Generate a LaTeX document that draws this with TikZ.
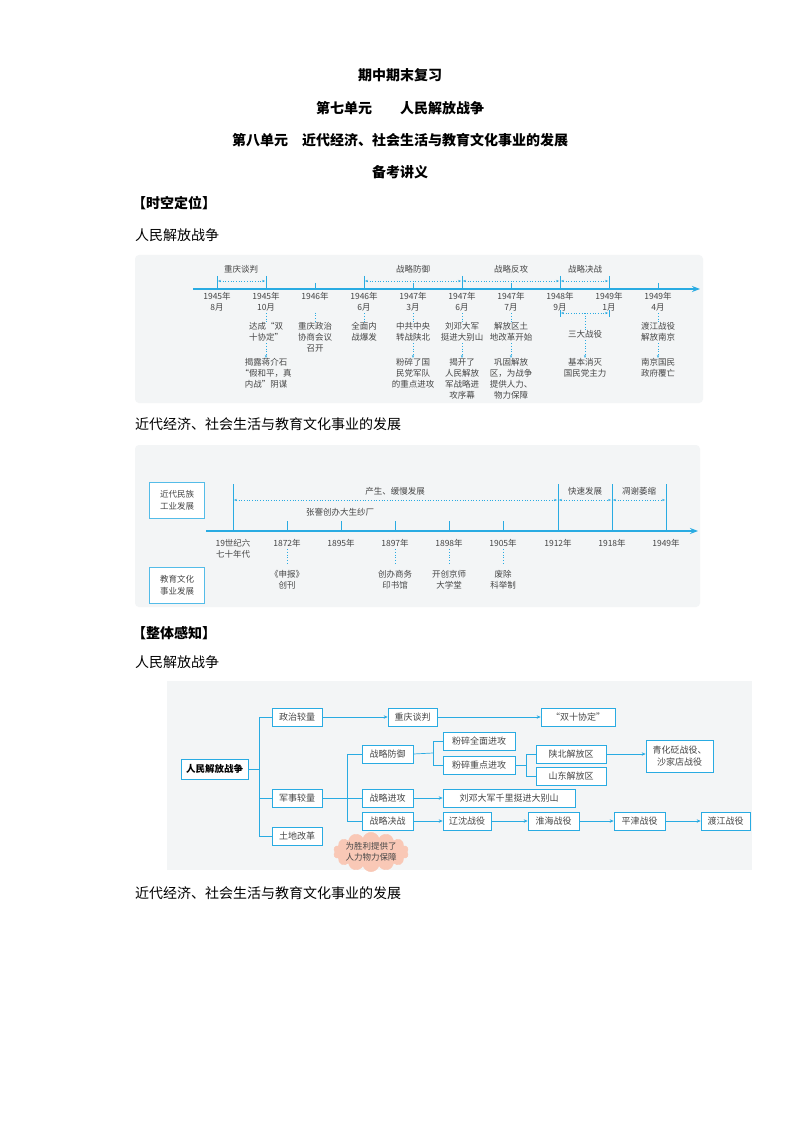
\documentclass[tikz,border=0pt]{standalone}
\usepackage{fontspec}
\setmainfont{Noto Sans CJK SC}
\usetikzlibrary{positioning,arrows.meta,shapes.symbols}
\definecolor{lineblue}{RGB}{41,171,226}
\definecolor{panel}{RGB}{243,245,246}
\definecolor{txtgray}{RGB}{70,70,70}
\definecolor{cloudpink}{RGB}{249,200,182}
\tikzset{
  lbl/.style={font=\fontsize{8.5}{11}\selectfont, text=txtgray, align=center, inner sep=0pt},
  ticklin/.style={draw=lineblue, line width=0.6pt},
  dotlink/.style={draw=lineblue, dotted, line width=0.7pt},
  axisline/.style={draw=lineblue, line width=1.4pt, -{Stealth[length=8pt,width=6pt]}},
  box/.style={draw=lineblue, fill=white, line width=0.7pt, minimum height=18pt, inner sep=2pt,
    font=\fontsize{9}{12}\selectfont, text=txtgray, align=center},
  link/.style={draw=lineblue, line width=0.7pt},
  arr/.style={link, -{Stealth[length=4pt,width=3.5pt]}},
  head/.style={font=\fontsize{14}{16}\selectfont\bfseries, inner sep=0pt},
  body/.style={font=\fontsize{14}{16}\selectfont, anchor=west, inner sep=0pt}
}
\begin{document}
\begin{tikzpicture}[x=1pt,y=-1pt]
\useasboundingbox (0,0) rectangle (800,1131);
\fill[white] (0,0) rectangle (800,1131);

% Headings
\node[head] (title1) at (400,75) {期中期末复习};
\node[head] (title2) at (400,108) {第七单元\quad\quad 人民解放战争};
\node[head] (title3) at (400,140) {第八单元\quad 近代经济、社会生活与教育文化事业的发展};
\node[head] (title4) at (400,172) {备考讲义};
\node[head, anchor=west] (sec1) at (132,203) {【时空定位】};
\node[body] (sub1) at (135,235) {人民解放战争};

% Timeline 1
\fill[panel, rounded corners=4pt] (135,255) rectangle (703,403);
\coordinate (ax1s) at (193,289);
\coordinate (ax1e) at (700,289);
\draw[axisline] (ax1s) -- (ax1e);
\foreach \i/\x/\y/\m in {1/217/1945/8,2/266/1945/10,3/315/1946/,4/364/1946/6,5/413/1947/3,
  6/462/1947/6,7/511/1947/7,8/560/1948/9,9/609/1949/1,10/658/1949/4}{
  \draw[ticklin] (\x,283) -- (\x,289);
  \node[lbl, anchor=north] (y\i) at (\x,292) {\y 年\\\ifx\m\empty\else\m 月\fi};
}
\foreach \x in {217,266,364,462,560,609}
  \draw[ticklin] (\x,276) -- (\x,289);
% spans
\draw[dotlink, {Stealth[length=3pt]}-{Stealth[length=3pt]}] (218,281) -- (265,281);
\draw[dotlink, {Stealth[length=3pt]}-{Stealth[length=3pt]}] (365,281) -- (461,281);
\draw[dotlink, {Stealth[length=3pt]}-{Stealth[length=3pt]}] (463,281) -- (559,281);
\draw[dotlink, {Stealth[length=3pt]}-{Stealth[length=3pt]}] (561,281) -- (608,281);
\node[lbl] (s1) at (241,269) {重庆谈判};
\node[lbl] (s2) at (413,269) {战略防御};
\node[lbl] (s3) at (511,269) {战略反攻};
\node[lbl] (s4) at (585,269) {战略决战};
% events
\node[lbl, anchor=north] (a2) at (266,322) {达成“双\\十协定”};
\node[lbl, anchor=north] (b2) at (266,358) {揭露蒋介石\\“假和平，真\\内战”阴谋};
\node[lbl, anchor=north] (a3) at (315,322) {重庆政治\\协商会议\\召开};
\node[lbl, anchor=north] (a4) at (364,322) {全面内\\战爆发};
\node[lbl, anchor=north] (a5) at (413,322) {中共中央\\转战陕北};
\node[lbl, anchor=north] (b5) at (413,358) {粉碎了国\\民党军队\\的重点进攻};
\node[lbl, anchor=north] (a6) at (462,322) {刘邓大军\\挺进大别山};
\node[lbl, anchor=north] (b6) at (462,358) {揭开了\\人民解放\\军战略进\\攻序幕};
\node[lbl, anchor=north] (a7) at (511,322) {解放区土\\地改革开始};
\node[lbl, anchor=north] (b7) at (511,358) {巩固解放\\区，为战争\\提供人力、\\物力保障};
\node[lbl] (a8) at (585,334) {三大战役};
\node[lbl, anchor=north] (b8) at (585,358) {基本消灭\\国民党主力};
\node[lbl, anchor=north] (a10) at (658,322) {渡江战役\\解放南京};
\node[lbl, anchor=north] (b10) at (658,358) {南京国民\\政府覆亡};
\foreach \i in {2,3,4,5,6,7,10}
  \draw[dotlink] (y\i.south) ++(0,2) -- (a\i.north);
\foreach \i in {2,5,6,7,8,10}
  \draw[dotlink, -{Stealth[length=3pt]}] (a\i.south) ++(0,2) -- (b\i.north);
\draw[ticklin] (560,310) -- (560,317);
\draw[ticklin] (609,310) -- (609,317);
\draw[dotlink, {Stealth[length=3pt]}-{Stealth[length=3pt]}] (561,313) -- (608,313);
\draw[dotlink] (585,313) -- (a8.north);

% Timeline 2
\node[body] (sub2) at (135,424) {近代经济、社会生活与教育文化事业的发展};
\fill[panel, rounded corners=4pt] (135,445) rectangle (700,607);
\node[box, draw=lineblue!80, minimum width=55pt, minimum height=36pt, font=\fontsize{8.5}{12}\selectfont] (ind) at (177,500) {近代民族\\工业发展};
\node[box, draw=lineblue!80, minimum width=55pt, minimum height=36pt, font=\fontsize{8.5}{12}\selectfont] (edu) at (177,585) {教育文化\\事业发展};
\draw[axisline] (206,531) -- (698,531);
\foreach \x in {233,558,612,666}
  \draw[ticklin] (\x,484) -- (\x,531);
\foreach \x in {287,341,395,449,503}
  \draw[ticklin] (\x,521) -- (\x,531);
\foreach \i/\x/\t in {1/233/19世纪六\\七十年代,2/287/1872年,3/341/1895年,4/395/1897年,
  5/449/1898年,6/503/1905年,7/558/1912年,8/612/1918年,9/666/1949年}
  \node[lbl, anchor=north] (z\i) at (\x,539) {\t};
\draw[dotlink, {Stealth[length=3pt]}-{Stealth[length=3pt]}] (234,500) -- (557,500);
\draw[dotlink, {Stealth[length=3pt]}-{Stealth[length=3pt]}] (559,500) -- (611,500);
\draw[dotlink, {Stealth[length=3pt]}-{Stealth[length=3pt]}] (613,500) -- (665,500);
\node[lbl] (p1) at (395,491) {产生、缓慢发展};
\node[lbl] (p2) at (585,491) {快速发展};
\node[lbl] (p3) at (639,491) {凋谢萎缩};
\node[lbl] (zj) at (340,512) {张謇创办大生纱厂};
\node[lbl, anchor=north] (e2) at (287,570) {《申报》\\创刊};
\node[lbl, anchor=north] (e4) at (395,570) {创办商务\\印书馆};
\node[lbl, anchor=north] (e5) at (449,570) {开创京师\\大学堂};
\node[lbl, anchor=north] (e6) at (503,570) {废除\\科举制};
\foreach \i in {2,4,5,6}
  \draw[dotlink] (z\i.south) ++(0,2) -- ++(0,14);

% Tree
\node[head, anchor=west] (sec2) at (132,633) {【整体感知】};
\node[body] (sub3) at (135,662) {人民解放战争};
\fill[panel] (167,681) rectangle (752,870);
\node[box, minimum width=67pt, minimum height=20pt, font=\fontsize{9.5}{12}\selectfont\bfseries, text=black] (root) at (214.5,769) {人民解放战争};
\node[box, minimum width=50pt] (zz) at (297,717) {政治较量};
\node[box, minimum width=50pt] (js) at (297,798) {军事较量};
\node[box, minimum width=50pt] (td) at (297,836) {土地改革};
\node[box, minimum width=49pt] (cq) at (412.5,717) {重庆谈判};
\node[box, minimum width=74pt] (sx) at (578,717) {“双十协定”};
\node[box, minimum width=51pt] (fy) at (387.5,754) {战略防御};
\node[box, minimum width=51pt] (jg) at (387.5,798) {战略进攻};
\node[box, minimum width=51pt] (jz) at (387.5,821) {战略决战};
\node[box, minimum width=72pt] (qm) at (479,741) {粉碎全面进攻};
\node[box, minimum width=72pt] (zd) at (479,765) {粉碎重点进攻};
\node[box, minimum width=70pt] (sb) at (571,754) {陕北解放区};
\node[box, minimum width=70pt] (sd) at (571,776) {山东解放区};
\node[box, minimum width=67pt, minimum height=32pt] (qh) at (679.5,756) {青化砭战役、\\沙家店战役};
\node[box, minimum width=132pt] (ld) at (509,798) {刘邓大军千里挺进大别山};
\node[box, minimum width=48pt] (lsh) at (467,821) {辽沈战役};
\node[box, minimum width=51pt] (hh) at (553.5,821) {淮海战役};
\node[box, minimum width=51pt] (pj) at (639.5,821) {平津战役};
\node[box, minimum width=49pt] (dj) at (725.5,821) {渡江战役};
\node[cloud, cloud puffs=14, aspect=2.6, fill=cloudpink, draw=cloudpink, inner sep=0pt,
  font=\fontsize{8.5}{11}\selectfont, text=txtgray, align=center] (cl) at (371,852) {为胜利提供了\\人力物力保障};
\coordinate (j0) at (259,769);
\coordinate (j1) at (347,798);
\coordinate (j2) at (433,753);
\coordinate (j3) at (526,765);
\draw[link] (root.east) -- (j0);
\draw[link] (j0) |- (zz.west);
\draw[link] (j0) |- (td.west);
\draw[link] (j0) |- (js.west);
\draw[arr] (zz) -- (cq);
\draw[arr] (cq) -- (sx);
\draw[link] (js.east) -- (j1);
\draw[link] (j1) |- (fy.west);
\draw[link] (j1) |- (jz.west);
\draw[link] (j1) -- (jg.west);
\draw[link] (fy.east) -- (j2);
\draw[link] (j2) |- (qm.west);
\draw[link] (j2) |- (zd.west);
\draw[link] (zd.east) -- (j3);
\draw[link] (j3) |- (sb.west);
\draw[link] (j3) |- (sd.west);
\draw[arr] (sb) -- (qh.west |- sb);
\draw[arr] (jg) -- (ld);
\draw[arr] (jz) -- (lsh);
\draw[arr] (lsh) -- (hh);
\draw[arr] (hh) -- (pj);
\draw[arr] (pj) -- (dj);

\node[body] (sub4) at (135,893) {近代经济、社会生活与教育文化事业的发展};
\end{tikzpicture}
\end{document}
